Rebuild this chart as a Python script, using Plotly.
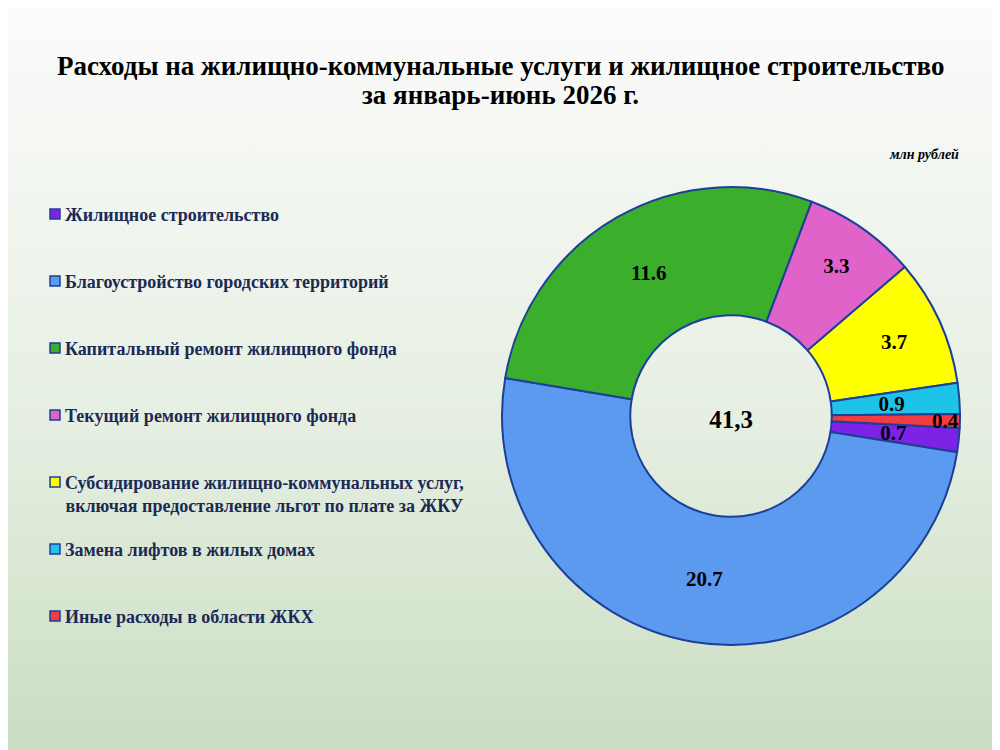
import plotly.graph_objects as go

labels = [
    "Жилищное строительство",
    "Благоустройство городских территорий",
    "Капитальный ремонт жилищного фонда",
    "Текущий ремонт жилищного фонда",
    "Субсидирование жилищно-коммунальных услуг,<br>включая предоставление льгот по плате за ЖКУ",
    "Замена лифтов в жилых домах",
    "Иные расходы в области ЖКХ",
]
values = [0.7, 20.7, 11.6, 3.3, 3.7, 0.9, 0.4]
total_label = "41,3"
colors = ["#7E22E6", "#5B9AEE", "#3BAF2B", "#E063C9", "#FFFF00", "#1EC4E8", "#F23C44"]

# which ring each value label goes into: 0 = middle of the donut, 1 = inner, 2 = rim
label_ring = [1, 0, 0, 0, 0, 1, 2]

W, H = 1000, 750
OFF = 8  # page offset of the plot div
edge = "#1C3F9A"
serif = "Liberation Serif, Times New Roman, serif"


def px(x):
    return (x - OFF) / W


def py(y):
    return 1 - (y - OFF) / H


def dom(cx, cy, r):
    return dict(x=[px(cx - r), px(cx + r)], y=[py(cy + r), py(cy - r)])


CX, CY, R = 731, 416, 229
label_font = dict(family=serif, size=21, color="black", weight="bold")

fig = go.Figure()

# background gradient
fig.add_trace(go.Scatter(
    x=[0, 1, 1, 0, 0], y=[0, 0, 1, 1, 0], mode="lines", fill="toself",
    line=dict(width=0), hoverinfo="skip", showlegend=False,
    fillgradient=dict(type="vertical",
                      colorscale=[[0, "#c9ddc1"], [0.45, "#e6efe2"], [1, "#fbfbfb"]]),
))

fig.add_trace(go.Pie(
    labels=labels, values=values, sort=False, direction="clockwise", rotation=93,
    hole=0.44, domain=dom(CX, CY, R),
    marker=dict(colors=colors, line=dict(color=edge, width=2)),
    text=[f"{v}" if g == 0 else "" for v, g in zip(values, label_ring)],
    textinfo="text", textposition="inside", insidetextorientation="horizontal",
    textfont=label_font,
    title=dict(text="<b>" + total_label + "</b>", position="middle center",
               font=dict(family=serif, size=25, color="black")),
    showlegend=False,
))

# transparent pies used only to place the labels of the thin slices
for ring, r in [(1, 172), (2, 221)]:
    fig.add_trace(go.Pie(
        labels=labels, values=values, sort=False, direction="clockwise", rotation=93,
        domain=dom(CX, CY, r),
        marker=dict(colors=["rgba(0,0,0,0)"] * len(values), line=dict(width=0)),
        text=[f"{v}" if g == ring else "" for v, g in zip(values, label_ring)],
        textinfo="text", textposition="inside", insidetextorientation="horizontal",
        textfont=label_font, hoverinfo="skip", showlegend=False,
    ))

title_font = dict(family=serif, size=27, color="black")
annotations = [
    dict(text="<b>Расходы на жилищно-коммунальные услуги и жилищное строительство</b>",
         x=px(500), y=py(66), xref="paper", yref="paper", xanchor="center",
         yanchor="middle", showarrow=False, font=title_font),
    dict(text="<b>за январь-июнь 2026 г.</b>",
         x=px(500), y=py(95), xref="paper", yref="paper", xanchor="center",
         yanchor="middle", showarrow=False, font=title_font),
    dict(text="<b><i>млн рублей</i></b>", x=px(961), y=py(155), xref="paper", yref="paper",
         xanchor="right", yanchor="middle", showarrow=False,
         font=dict(family=serif, size=14, color="black")),
]
shapes = []
for i, (lab, col) in enumerate(zip(labels, colors)):
    yc = 214 + i * 67
    annotations.append(dict(
        text="<b>" + lab + "</b>", x=px(63), y=py(yc - 11), xref="paper", yref="paper",
        xanchor="left", yanchor="top", align="center", showarrow=False,
        font=dict(family=serif, size=18, color="#1B2A55"),
    ))
    shapes.append(dict(type="rect", xref="paper", yref="paper",
                       x0=px(50), x1=px(60), y0=py(yc - 5), y1=py(yc + 5),
                       fillcolor=col, line=dict(color=edge, width=1.5)))

fig.update_layout(
    width=W, height=H,
    margin=dict(l=0, r=0, t=0, b=0),
    paper_bgcolor="#fbfbfb", plot_bgcolor="rgba(0,0,0,0)",
    xaxis=dict(visible=False, range=[0, 1], domain=[0, 1], fixedrange=True),
    yaxis=dict(visible=False, range=[0, 1], domain=[0, 1], fixedrange=True),
    uniformtext=dict(minsize=21, mode="show"),
    annotations=annotations, shapes=shapes,
    showlegend=False,
)

fig.write_html("out.html")
